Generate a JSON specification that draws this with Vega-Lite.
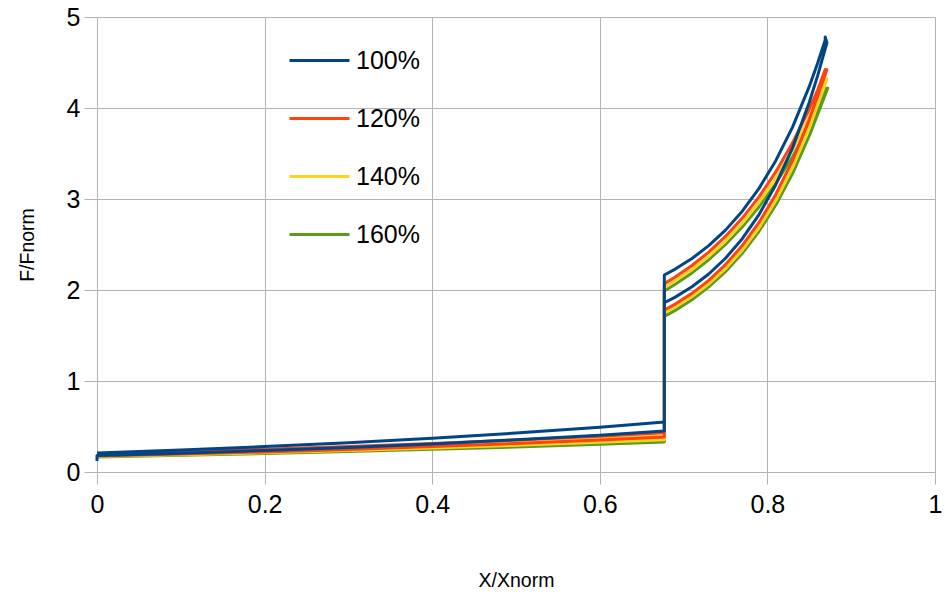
{
  "$schema": "https://vega.github.io/schema/vega-lite/v6.json",
  "width": 838,
  "height": 455,
  "autosize": {"type": "none"},
  "padding": {"left": 97, "top": 17, "right": 10, "bottom": 123},
  "background": "white",
  "config": {
    "view": {"stroke": null},
    "font": "Liberation Sans",
    "axis": {
      "gridColor": "#b3b3b3",
      "gridWidth": 1,
      "domainColor": "#b3b3b3",
      "tickColor": "#b3b3b3",
      "labelColor": "#000000",
      "titleColor": "#000000",
      "labelFontSize": 25,
      "titleFontSize": 19.5,
      "titleFontWeight": "normal",
      "labelFont": "Liberation Sans",
      "titleFont": "Liberation Sans"
    },
    "legend": {"labelFont": "Liberation Sans"}
  },
  "data": {
    "values": [
      {"s":"160%","i":0,"x":0,"y":0.165},{"s":"160%","i":1,"x":0.1,"y":0.183},{"s":"160%","i":2,"x":0.2,"y":0.202},{"s":"160%","i":3,"x":0.3,"y":0.224},{"s":"160%","i":4,"x":0.4,"y":0.249},{"s":"160%","i":5,"x":0.5,"y":0.275},{"s":"160%","i":6,"x":0.6,"y":0.305},{"s":"160%","i":7,"x":0.677,"y":0.33},
      {"s":"160%","i":8,"x":0.677,"y":1.71},{"s":"160%","i":9,"x":0.69,"y":1.776},{"s":"160%","i":10,"x":0.71,"y":1.893},{"s":"160%","i":11,"x":0.73,"y":2.034},{"s":"160%","i":12,"x":0.75,"y":2.202},{"s":"160%","i":13,"x":0.77,"y":2.404},{"s":"160%","i":14,"x":0.79,"y":2.645},{"s":"160%","i":15,"x":0.81,"y":2.934},{"s":"160%","i":16,"x":0.83,"y":3.28},{"s":"160%","i":17,"x":0.85,"y":3.695},{"s":"160%","i":18,"x":0.86,"y":3.931},{"s":"160%","i":19,"x":0.872,"y":4.218},
      {"s":"160%","i":20,"x":0.87,"y":4.216},{"s":"160%","i":21,"x":0.86,"y":3.993},{"s":"160%","i":22,"x":0.85,"y":3.804},{"s":"160%","i":23,"x":0.83,"y":3.464},{"s":"160%","i":24,"x":0.81,"y":3.17},{"s":"160%","i":25,"x":0.79,"y":2.914},{"s":"160%","i":26,"x":0.77,"y":2.692},{"s":"160%","i":27,"x":0.75,"y":2.5},{"s":"160%","i":28,"x":0.73,"y":2.333},{"s":"160%","i":29,"x":0.71,"y":2.188},{"s":"160%","i":30,"x":0.69,"y":2.063},{"s":"160%","i":31,"x":0.677,"y":1.99},
      {"s":"160%","i":32,"x":0.677,"y":0.37},{"s":"160%","i":33,"x":0.6,"y":0.342},{"s":"160%","i":34,"x":0.5,"y":0.309},{"s":"160%","i":35,"x":0.4,"y":0.279},{"s":"160%","i":36,"x":0.3,"y":0.252},{"s":"160%","i":37,"x":0.2,"y":0.227},{"s":"160%","i":38,"x":0.1,"y":0.205},{"s":"160%","i":39,"x":0,"y":0.185},

      {"s":"140%","i":0,"x":0,"y":0.17},{"s":"140%","i":1,"x":0.1,"y":0.19},{"s":"140%","i":2,"x":0.2,"y":0.211},{"s":"140%","i":3,"x":0.3,"y":0.236},{"s":"140%","i":4,"x":0.4,"y":0.263},{"s":"140%","i":5,"x":0.5,"y":0.293},{"s":"140%","i":6,"x":0.6,"y":0.326},{"s":"140%","i":7,"x":0.677,"y":0.355},
      {"s":"140%","i":8,"x":0.677,"y":1.75},{"s":"140%","i":9,"x":0.69,"y":1.813},{"s":"140%","i":10,"x":0.71,"y":1.928},{"s":"140%","i":11,"x":0.73,"y":2.066},{"s":"140%","i":12,"x":0.75,"y":2.234},{"s":"140%","i":13,"x":0.77,"y":2.438},{"s":"140%","i":14,"x":0.79,"y":2.684},{"s":"140%","i":15,"x":0.81,"y":2.983},{"s":"140%","i":16,"x":0.83,"y":3.345},{"s":"140%","i":17,"x":0.85,"y":3.784},{"s":"140%","i":18,"x":0.86,"y":4.037},{"s":"140%","i":19,"x":0.871,"y":4.315},
      {"s":"140%","i":20,"x":0.869,"y":4.324},{"s":"140%","i":21,"x":0.86,"y":4.104},{"s":"140%","i":22,"x":0.85,"y":3.902},{"s":"140%","i":23,"x":0.83,"y":3.54},{"s":"140%","i":24,"x":0.81,"y":3.229},{"s":"140%","i":25,"x":0.79,"y":2.963},{"s":"140%","i":26,"x":0.77,"y":2.734},{"s":"140%","i":27,"x":0.75,"y":2.538},{"s":"140%","i":28,"x":0.73,"y":2.37},{"s":"140%","i":29,"x":0.71,"y":2.225},{"s":"140%","i":30,"x":0.69,"y":2.101},{"s":"140%","i":31,"x":0.677,"y":2.03},
      {"s":"140%","i":32,"x":0.677,"y":0.395},{"s":"140%","i":33,"x":0.6,"y":0.363},{"s":"140%","i":34,"x":0.5,"y":0.326},{"s":"140%","i":35,"x":0.4,"y":0.293},{"s":"140%","i":36,"x":0.3,"y":0.263},{"s":"140%","i":37,"x":0.2,"y":0.236},{"s":"140%","i":38,"x":0.1,"y":0.212},{"s":"140%","i":39,"x":0,"y":0.19},

      {"s":"120%","i":0,"x":0,"y":0.175},{"s":"120%","i":1,"x":0.1,"y":0.197},{"s":"120%","i":2,"x":0.2,"y":0.221},{"s":"120%","i":3,"x":0.3,"y":0.248},{"s":"120%","i":4,"x":0.4,"y":0.279},{"s":"120%","i":5,"x":0.5,"y":0.313},{"s":"120%","i":6,"x":0.6,"y":0.352},{"s":"120%","i":7,"x":0.677,"y":0.385},
      {"s":"120%","i":8,"x":0.677,"y":1.78},{"s":"120%","i":9,"x":0.69,"y":1.845},{"s":"120%","i":10,"x":0.71,"y":1.963},{"s":"120%","i":11,"x":0.73,"y":2.106},{"s":"120%","i":12,"x":0.75,"y":2.279},{"s":"120%","i":13,"x":0.77,"y":2.488},{"s":"120%","i":14,"x":0.79,"y":2.742},{"s":"120%","i":15,"x":0.81,"y":3.05},{"s":"120%","i":16,"x":0.83,"y":3.422},{"s":"120%","i":17,"x":0.85,"y":3.873},{"s":"120%","i":18,"x":0.86,"y":4.134},{"s":"120%","i":19,"x":0.871,"y":4.42},
      {"s":"120%","i":20,"x":0.869,"y":4.423},{"s":"120%","i":21,"x":0.86,"y":4.197},{"s":"120%","i":22,"x":0.85,"y":3.989},{"s":"120%","i":23,"x":0.83,"y":3.617},{"s":"120%","i":24,"x":0.81,"y":3.298},{"s":"120%","i":25,"x":0.79,"y":3.024},{"s":"120%","i":26,"x":0.77,"y":2.79},{"s":"120%","i":27,"x":0.75,"y":2.589},{"s":"120%","i":28,"x":0.73,"y":2.417},{"s":"120%","i":29,"x":0.71,"y":2.269},{"s":"120%","i":30,"x":0.69,"y":2.142},{"s":"120%","i":31,"x":0.677,"y":2.07},
      {"s":"120%","i":32,"x":0.677,"y":0.43},{"s":"120%","i":33,"x":0.6,"y":0.394},{"s":"120%","i":34,"x":0.5,"y":0.352},{"s":"120%","i":35,"x":0.4,"y":0.314},{"s":"120%","i":36,"x":0.3,"y":0.281},{"s":"120%","i":37,"x":0.2,"y":0.251},{"s":"120%","i":38,"x":0.1,"y":0.224},{"s":"120%","i":39,"x":0,"y":0.2},

      {"s":"100%","i":0,"x":0,"y":0.12},{"s":"100%","i":1,"x":0,"y":0.18},{"s":"100%","i":2,"x":0.1,"y":0.206},{"s":"100%","i":3,"x":0.2,"y":0.236},{"s":"100%","i":4,"x":0.3,"y":0.27},{"s":"100%","i":5,"x":0.4,"y":0.309},{"s":"100%","i":6,"x":0.5,"y":0.354},{"s":"100%","i":7,"x":0.6,"y":0.405},{"s":"100%","i":8,"x":0.677,"y":0.45},
      {"s":"100%","i":9,"x":0.677,"y":1.86},{"s":"100%","i":10,"x":0.69,"y":1.922},{"s":"100%","i":11,"x":0.71,"y":2.035},{"s":"100%","i":12,"x":0.73,"y":2.176},{"s":"100%","i":13,"x":0.75,"y":2.349},{"s":"100%","i":14,"x":0.77,"y":2.564},{"s":"100%","i":15,"x":0.79,"y":2.829},{"s":"100%","i":16,"x":0.81,"y":3.157},{"s":"100%","i":17,"x":0.83,"y":3.562},{"s":"100%","i":18,"x":0.85,"y":4.063},{"s":"100%","i":19,"x":0.86,"y":4.356},{"s":"100%","i":20,"x":0.871,"y":4.717},
      {"s":"100%","i":21,"x":0.869,"y":4.78},
      {"s":"100%","i":22,"x":0.869,"y":4.749},{"s":"100%","i":23,"x":0.86,"y":4.495},{"s":"100%","i":24,"x":0.85,"y":4.237},{"s":"100%","i":25,"x":0.83,"y":3.79},{"s":"100%","i":26,"x":0.81,"y":3.421},{"s":"100%","i":27,"x":0.79,"y":3.117},{"s":"100%","i":28,"x":0.77,"y":2.866},{"s":"100%","i":29,"x":0.75,"y":2.658},{"s":"100%","i":30,"x":0.73,"y":2.487},{"s":"100%","i":31,"x":0.71,"y":2.346},{"s":"100%","i":32,"x":0.69,"y":2.23},{"s":"100%","i":33,"x":0.677,"y":2.165},
      {"s":"100%","i":34,"x":0.677,"y":0.55},{"s":"100%","i":35,"x":0.6,"y":0.493},{"s":"100%","i":36,"x":0.5,"y":0.428},{"s":"100%","i":37,"x":0.4,"y":0.371},{"s":"100%","i":38,"x":0.3,"y":0.322},{"s":"100%","i":39,"x":0.2,"y":0.279},{"s":"100%","i":40,"x":0.1,"y":0.242},{"s":"100%","i":41,"x":0,"y":0.21}
    ]
  },
  "mark": {"type": "line", "strokeWidth": 3, "strokeJoin": "round", "clip": false},
  "encoding": {
    "x": {
      "field": "x",
      "type": "quantitative",
      "scale": {"domain": [0, 1], "nice": false, "zero": false},
      "axis": {
        "title": "X/Xnorm",
        "values": [0, 0.2, 0.4, 0.6, 0.8, 1],
        "format": "~g",
        "tickSize": 12,
        "labelPadding": 8,
        "labelFlush": false,
        "titleY": 108,
        "titleBaseline": "middle"
      }
    },
    "y": {
      "field": "y",
      "type": "quantitative",
      "scale": {"domain": [0, 5], "nice": false},
      "axis": {
        "title": "F/Fnorm",
        "values": [0, 1, 2, 3, 4, 5],
        "format": "~g",
        "tickSize": 13,
        "labelPadding": 4,
        "titleX": -70,
        "titleY": 227.5,
        "titleAngle": -90,
        "titleAlign": "center",
        "titleBaseline": "middle"
      }
    },
    "color": {
      "field": "s",
      "type": "nominal",
      "scale": {
        "domain": ["100%", "120%", "140%", "160%"],
        "range": ["#004586", "#ff420e", "#ffd320", "#579d1c"]
      },
      "legend": {
        "title": null,
        "orient": "none",
        "legendX": 191,
        "legendY": 12,
        "symbolType": "stroke",
        "symbolSize": 3600,
        "symbolStrokeWidth": 3,
        "labelFontSize": 25,
        "labelColor": "#000000",
        "labelOffset": 5,
        "rowPadding": 13
      }
    },
    "order": {"field": "i", "type": "quantitative"}
  }
}
